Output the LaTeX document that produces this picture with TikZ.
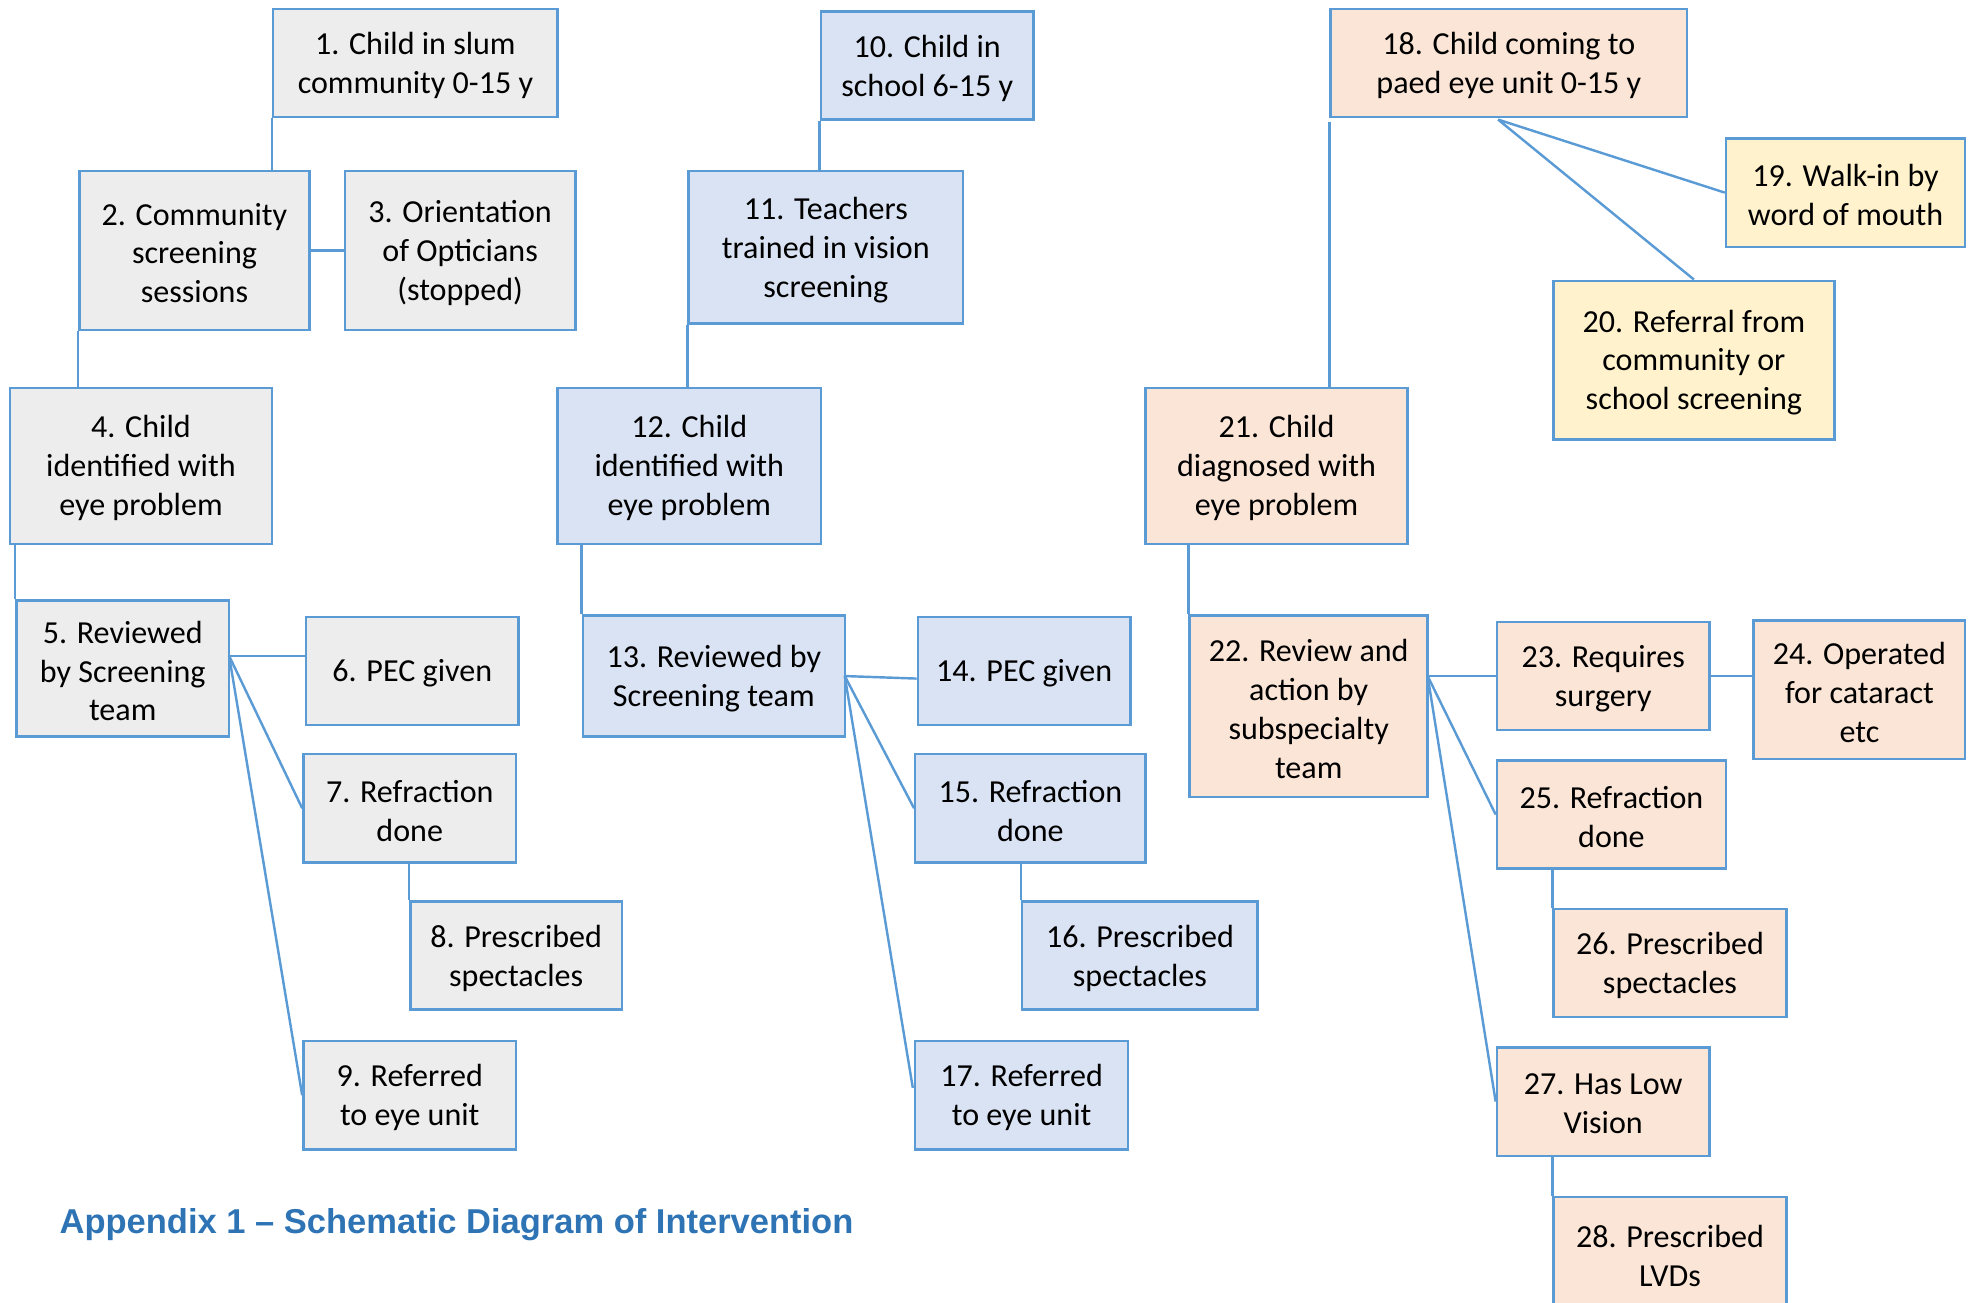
\documentclass[tikz,border=0pt]{standalone}
\usepackage{fontspec}
\setmainfont{Carlito}
\newfontfamily\titlefont{Liberation Sans}
\usetikzlibrary{calc}
\definecolor{edge}{HTML}{5B9BD5}
\definecolor{fgray}{HTML}{EDEDED}
\definecolor{fblue}{HTML}{DAE3F3}
\definecolor{fpeach}{HTML}{FBE5D6}
\definecolor{fyellow}{HTML}{FFF2CC}
\definecolor{ttl}{HTML}{2E74B5}
\tikzset{
  boxbase/.style={draw=edge, line width=1.1pt, inner sep=0pt},
  gbox/.style={boxbase, fill=fgray},
  bbox/.style={boxbase, fill=fblue},
  pbox/.style={boxbase, fill=fpeach},
  ybox/.style={boxbase, fill=fyellow},
  boxtext/.style={inner sep=0pt, align=center, text=black,
    font=\fontsize{14.5}{17.6}\selectfont},
  link/.style={draw=edge, line width=1.1pt}
}
\newcommand\mkbox[7]{%
  \pgfmathsetmacro\myBW{(#4-#2)*0.02}%
  \pgfmathsetmacro\myBH{(#5-#3)*0.02}%
  \node[#6, minimum width=\myBW cm, minimum height=\myBH cm] (#1) at ({(#2+#4)/2},{(#3+#5)/2}) {};%
  \node[boxtext] (#1t) at ($(#1.center)+(0,2)$) {#7};%
}
\begin{document}
\begin{tikzpicture}[x=0.02cm, y=-0.02cm]
\useasboundingbox (0,0) rectangle (1568,1035);
\clip (0,0) rectangle (1568,1035);
% column 1
\mkbox{n1}{217}{7}{443}{93}{gbox}{1. Child in slum\\community 0-15 y}
\mkbox{n2}{63}{136}{246}{262}{gbox}{2. Community\\screening\\sessions}
\mkbox{n3}{274}{136}{457}{262}{gbox}{3. Orientation\\of Opticians\\(stopped)}
\mkbox{n4}{8}{308}{216}{432}{gbox}{4. Child\\identified with\\eye problem}
\mkbox{n5}{13}{477}{182}{585}{gbox}{5. Reviewed\\by Screening\\team}
\mkbox{n6}{243}{490}{412}{576}{gbox}{6. PEC given}
\mkbox{n7}{241}{599}{410}{685}{gbox}{7. Refraction\\done}
\mkbox{n8}{326}{716}{494}{802}{gbox}{8. Prescribed\\spectacles}
\mkbox{n9}{241}{827}{410}{913}{gbox}{9. Referred\\to eye unit}
% column 2
\mkbox{n10}{652}{9}{821}{95}{bbox}{10. Child in\\school 6-15 y}
\mkbox{n11}{547}{136}{765}{257}{bbox}{11. Teachers\\trained in vision\\screening}
\mkbox{n12}{443}{308}{652}{432}{bbox}{12. Child\\identified with\\eye problem}
\mkbox{n13}{463}{489}{671}{585}{bbox}{13. Reviewed by\\Screening team}
\mkbox{n14}{729}{490}{898}{576}{bbox}{14. PEC given}
\mkbox{n15}{727}{599}{910}{685}{bbox}{15. Refraction\\done}
\mkbox{n16}{812}{716}{999}{802}{bbox}{16. Prescribed\\spectacles}
\mkbox{n17}{727}{827}{896}{913}{bbox}{17. Referred\\to eye unit}
% column 3
\mkbox{n18}{1057}{7}{1340}{93}{pbox}{18. Child coming to\\paed eye unit 0-15 y}
\mkbox{n19}{1371}{110}{1561}{196}{ybox}{19. Walk-in by\\word of mouth}
\mkbox{n20}{1234}{223}{1457}{349}{ybox}{20. Referral from\\community or\\school screening}
\mkbox{n21}{910}{308}{1118}{432}{pbox}{21. Child\\diagnosed with\\eye problem}
\mkbox{n22}{945}{489}{1134}{633}{pbox}{22. Review and\\action by\\subspecialty\\team}
\mkbox{n23}{1189}{494}{1358}{580}{pbox}{23. Requires\\surgery}
\mkbox{n24}{1393}{493}{1561}{603}{pbox}{24. Operated\\for cataract\\etc}
\mkbox{n25}{1189}{604}{1371}{690}{pbox}{25. Refraction\\done}
\mkbox{n26}{1234}{722}{1419}{808}{pbox}{26. Prescribed\\spectacles}
\mkbox{n27}{1189}{832}{1358}{918}{pbox}{27. Has Low\\Vision}
\mkbox{n28}{1234}{951}{1419}{1040}{pbox}{28. Prescribed\\LVDs}
% connectors column 1
\draw[link] (n1.south west) -- (n1.south west |- n2.north);
\draw[link] (n2.east) -- (n2.east -| n3.west);
\draw[link] (n2.south west) -- (n2.south west |- n4.north);
\draw[link] (n5.north west |- n4.south) -- (n5.north west);
\coordinate (c5) at (182,521);
\draw[link] (c5) -- (c5 -| n6.west);
\draw[link] (c5) -- (n7.west);
\draw[link] (c5) -- (n9.west);
\draw[link] (n8.north west |- n7.south) -- (n8.north west);
% connectors column 2
\draw[link] (n10.south west) -- (n10.south west |- n11.north);
\draw[link] (n11.south west) -- (n11.south west |- n12.north);
\draw[link] (n13.north west |- n12.south) -- (n13.north west);
\coordinate (c13) at (671,537);
\draw[link] (c13) -- ($(c13 -| n14.west)+(0,2)$);
\draw[link] (c13) -- (n15.west);
\draw[link, shorten >=0.12cm] (c13) -- (n17.west);
\draw[link] (n16.north west |- n15.south) -- (n16.north west);
% connectors column 3
\draw[link, shorten <=0.06cm] (n18.south west) -- (n18.south west |- n21.north);
\coordinate (c18) at (1190,95);
\draw[link] (c18) -- (n19.west);
\draw[link] (c18) -- (n20.north);
\draw[link] (n22.north west |- n21.south) -- (n22.north west);
\coordinate (c22) at (1134,537);
\draw[link] (c22) -- (c22 -| n23.west);
\draw[link] (n23.east) -- (n23.east -| n24.west);
\draw[link] (c22) -- (n25.west);
\draw[link] (c22) -- (n27.west);
\draw[link] (n26.north west |- n25.south) -- (n26.north west);
\draw[link] (n28.north west |- n27.south) -- (n28.north west);
% title
\node[anchor=base west, inner sep=0pt, text=ttl, font=\titlefont\bfseries\fontsize{15.6}{18}\selectfont] (title) at (47,980) {Appendix 1 – Schematic Diagram of Intervention};
\end{tikzpicture}
\end{document}
